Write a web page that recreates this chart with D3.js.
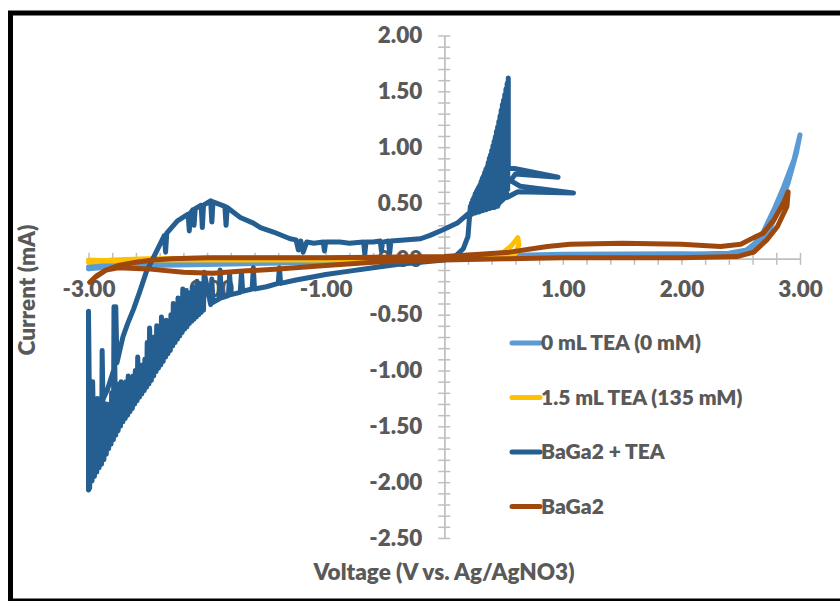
<!DOCTYPE html>
<html>
<head>
<meta charset="utf-8">
<script src="https://cdn.jsdelivr.net/npm/d3@7"></script>
<style>
  body { margin: 0; background: #fff; }
  svg text { font-family: Lato, "Open Sans", sans-serif; font-weight: 800; fill: #595959; }
</style>
</head>
<body>
<script>
// tick labels
const xTickValues = [-3, -2, -1, 1, 2, 3];
const yTickValues = [2, 1.5, 1, 0.5, 0, -0.5, -1, -1.5, -2, -2.5];

// legend
const seriesNames = ["0 mL TEA (0 mM)", "1.5 mL TEA (135 mM)", "BaGa2 + TEA", "BaGa2"];
const seriesColors = ["#5b9bd5", "#ffc000", "#255e91", "#9e480e"];

// [voltage (V), current (mA)]
const tea0 = [
  [-3.0, -0.07], [-2.9, -0.06], [-2.8, -0.05], [-2.5, -0.03], [-2.0, -0.02],
  [-1.0, -0.01], [0.0, 0.0], [1.0, 0.03], [2.0, 0.04], [2.4, 0.05], [2.55, 0.08],
  [2.62, 0.14], [2.69, 0.24], [2.78, 0.44], [2.86, 0.64], [2.95, 0.89], [3.0, 1.11],
  [2.97, 0.95], [2.9, 0.68], [2.82, 0.45], [2.74, 0.25], [2.66, 0.12], [2.55, 0.06],
  [2.3, 0.04], [2.0, 0.045], [1.0, 0.04], [0.5, 0.03], [0.0, 0.0], [-1.0, -0.03],
  [-2.0, -0.05], [-2.5, -0.06], [-2.8, -0.07], [-3.0, -0.09]
];

const tea15 = [
  [-3.0, -0.03], [-2.8, -0.01], [-2.5, 0.0], [-2.0, 0.005], [-1.0, 0.01], [0.0, 0.01],
  [0.4, 0.03], [0.5, 0.06], [0.56, 0.11], [0.6, 0.16], [0.62, 0.19], [0.63, 0.13],
  [0.6, 0.05], [0.5, 0.02], [0.0, 0.0], [-1.0, -0.01], [-2.0, -0.01], [-2.5, -0.01],
  [-2.8, -0.02], [-3.0, -0.01]
];

const bagaTea = [
  [-3.0, -2.07],
  [-2.99, -2.05], [-2.985, -1.45], [-2.97, -1.99], [-2.965, -1.10],
  [-2.95, -1.95], [-2.945, -1.50], [-2.93, -1.91], [-2.925, -1.25],
  [-2.91, -1.87], [-2.905, -1.55], [-2.89, -1.84], [-2.885, -0.82],
  [-2.87, -1.80], [-2.865, -1.40], [-2.85, -1.75], [-2.845, -1.30],
  [-2.83, -1.70], [-2.825, -1.35], [-2.81, -1.66], [-2.805, -1.20],
  [-2.79, -1.62], [-2.785, -0.43], [-2.77, -1.58], [-2.765, -1.25],
  [-2.75, -1.54], [-2.745, -1.12], [-2.73, -1.50], [-2.725, -1.10],
  [-2.71, -1.46], [-2.705, -1.18], [-2.69, -1.43], [-2.685, -1.10],
  [-2.67, -1.40], [-2.665, -1.05], [-2.65, -1.37], [-2.645, -1.14],
  [-2.63, -1.34], [-2.625, -1.05], [-2.61, -1.30], [-2.605, -1.00],
  [-2.59, -1.27], [-2.585, -0.88], [-2.57, -1.24], [-2.565, -1.00],
  [-2.55, -1.21], [-2.545, -0.95], [-2.53, -1.18], [-2.525, -0.90],
  [-2.51, -1.15], [-2.505, -0.75], [-2.49, -1.12], [-2.485, -0.62],
  [-2.47, -1.09], [-2.465, -0.80], [-2.45, -1.05], [-2.445, -0.70],
  [-2.43, -1.01], [-2.425, -0.60], [-2.41, -0.98], [-2.405, -0.70],
  [-2.39, -0.95], [-2.385, -0.52], [-2.37, -0.92], [-2.365, -0.65],
  [-2.35, -0.88], [-2.345, -0.55], [-2.33, -0.85], [-2.325, -0.58],
  [-2.31, -0.82], [-2.305, -0.50], [-2.29, -0.78], [-2.285, -0.40],
  [-2.27, -0.75], [-2.265, -0.45], [-2.25, -0.72], [-2.245, -0.35],
  [-2.23, -0.69], [-2.225, -0.42], [-2.21, -0.66], [-2.205, -0.27],
  [-2.19, -0.63], [-2.185, -0.38], [-2.17, -0.61], [-2.165, -0.30],
  [-2.15, -0.58], [-2.145, -0.35], [-2.13, -0.56], [-2.125, -0.25],
  [-2.11, -0.54], [-2.105, -0.32], [-2.09, -0.52], [-2.085, -0.20],
  [-2.07, -0.50], [-2.065, -0.30], [-2.05, -0.48], [-2.045, -0.22],
  [-2.03, -0.46], [-2.025, -0.12],
  [-1.97, -0.41], [-1.96, -0.18], [-1.95, -0.39],
  [-1.90, -0.36], [-1.89, -0.10], [-1.88, -0.35],
  [-1.82, -0.33], [-1.81, -0.14], [-1.80, -0.32],
  [-1.72, -0.30], [-1.71, -0.12], [-1.70, -0.29],
  [-1.62, -0.27], [-1.61, -0.08], [-1.60, -0.27],
  [-1.50, -0.25], [-1.40, -0.22], [-1.39, -0.08], [-1.38, -0.22],
  [-1.25, -0.19], [-1.10, -0.16], [-1.0, -0.14], [-0.8, -0.11], [-0.6, -0.08],
  [-0.4, -0.05], [-0.2, -0.03], [0.0, -0.01], [0.1, 0.03], [0.16, 0.09], [0.20, 0.2],
  [0.22, 0.47], [0.225, 0.40], [0.23, 0.50], [0.235, 0.40], [0.24, 0.53], [0.245, 0.41],
  [0.25, 0.55], [0.255, 0.41], [0.26, 0.58], [0.265, 0.41], [0.27, 0.60], [0.275, 0.42],
  [0.28, 0.62], [0.285, 0.42], [0.29, 0.64], [0.295, 0.42], [0.30, 0.66], [0.305, 0.43],
  [0.31, 0.69], [0.315, 0.43], [0.32, 0.72], [0.325, 0.43], [0.33, 0.74], [0.335, 0.44],
  [0.34, 0.77], [0.345, 0.44], [0.35, 0.80], [0.355, 0.44], [0.36, 0.82], [0.365, 0.45],
  [0.37, 0.86], [0.375, 0.45], [0.38, 0.90], [0.385, 0.45], [0.39, 0.93], [0.395, 0.46],
  [0.40, 0.97], [0.405, 0.46], [0.41, 1.01], [0.415, 0.46], [0.42, 1.05], [0.425, 0.46],
  [0.43, 1.09], [0.435, 0.47], [0.44, 1.14], [0.445, 0.47], [0.45, 1.18], [0.455, 0.48],
  [0.46, 1.23], [0.465, 0.50], [0.47, 1.28], [0.475, 0.51], [0.48, 1.33], [0.485, 0.52],
  [0.49, 1.38], [0.495, 0.53], [0.50, 1.42], [0.505, 0.54], [0.51, 1.47], [0.515, 0.55],
  [0.52, 1.52], [0.525, 0.58], [0.53, 1.57], [0.535, 0.62], [0.54, 1.62], [0.54, 0.82],
  [0.96, 0.73], [0.60, 0.76], [0.56, 0.70], [0.64, 0.65], [1.09, 0.59], [0.62, 0.60],
  [0.53, 0.55], [0.47, 0.53], [0.45, 0.47], [0.36, 0.46], [0.30, 0.52], [0.22, 0.42],
  [0.11, 0.32], [-0.01, 0.26], [-0.12, 0.21], [-0.2, 0.18], [-0.31, 0.17],
  [-0.45, 0.16], [-0.46, 0.05], [-0.47, 0.16], [-0.52, 0.15], [-0.53, 0.07],
  [-0.54, 0.16], [-0.60, 0.15], [-0.66, 0.15], [-0.67, 0.04], [-0.68, 0.15],
  [-0.80, 0.14], [-0.88, 0.15], [-1.0, 0.15], [-1.01, 0.07], [-1.02, 0.15],
  [-1.10, 0.14], [-1.16, 0.15], [-1.19, 0.06], [-1.21, 0.16], [-1.23, 0.08],
  [-1.25, 0.17], [-1.30, 0.18], [-1.44, 0.24], [-1.55, 0.28], [-1.61, 0.32],
  [-1.72, 0.37], [-1.83, 0.46], [-1.84, 0.30], [-1.85, 0.47], [-1.95, 0.51],
  [-1.96, 0.33], [-1.97, 0.52], [-2.03, 0.48], [-2.04, 0.28], [-2.05, 0.48],
  [-2.10, 0.45], [-2.11, 0.30], [-2.12, 0.44], [-2.14, 0.41], [-2.15, 0.25],
  [-2.16, 0.40], [-2.25, 0.34], [-2.34, 0.23], [-2.35, 0.06], [-2.36, 0.21],
  [-2.42, 0.08], [-2.51, -0.11], [-2.57, -0.30], [-2.62, -0.45], [-2.67, -0.58],
  [-2.71, -0.70], [-2.76, -0.93], [-2.77, -0.43], [-2.78, -0.97], [-2.84, -1.17],
  [-2.93, -1.38], [-2.99, -1.53], [-3.0, -0.47], [-3.0, -2.05]
];

const baga = [
  [-2.99, -0.21], [-2.93, -0.15], [-2.85, -0.10], [-2.75, -0.06], [-2.6, -0.03],
  [-2.45, -0.01], [-2.3, 0.0], [-2.0, 0.01], [-1.0, 0.01], [0.0, 0.02], [0.3, 0.04],
  [0.55, 0.06], [0.87, 0.11], [1.06, 0.13], [1.5, 0.14], [2.0, 0.13], [2.33, 0.11],
  [2.5, 0.13], [2.61, 0.19], [2.69, 0.23], [2.78, 0.35], [2.86, 0.50], [2.90, 0.60],
  [2.89, 0.47], [2.81, 0.29], [2.72, 0.17], [2.61, 0.06], [2.47, 0.02], [2.0, 0.01],
  [1.0, 0.01], [0.5, 0.0], [0.0, -0.01], [-0.6, -0.03], [-1.0, -0.06], [-1.4, -0.09],
  [-1.7, -0.11], [-1.95, -0.13], [-2.2, -0.12], [-2.5, -0.09], [-2.75, -0.08],
  [-2.85, -0.10], [-2.95, -0.17], [-2.99, -0.21]
];

const seriesData = [tea0, tea15, bagaTea, baga];

// =============================================================================

const width = 840,
      height = 601;

const x = d3.scaleLinear()
    .domain([-3, 3])
    .range([88.5, 800]);

const y = d3.scaleLinear()
    .domain([-2.5, 2])
    .range([538, 35.5]);

const svg = d3.select("body").append("svg")
    .attr("width", width)
    .attr("height", height);

svg.append("rect")
    .attr("width", width)
    .attr("height", height)
    .attr("fill", "#fff");

// minor tick positions
const xMinor = d3.range(0, 31).map(i => -3 + i * 0.2);
const yMinor = d3.range(0, 46).map(i => -2.5 + i * 0.1);

const axisColor = "#bfbfbf";

function styleTicks(g) {
  g.selectAll("path, line").attr("stroke", axisColor).attr("stroke-width", 1.5);
}

// x axis, ticks crossing the line
svg.append("g")
    .attr("transform", `translate(0,${y(0)})`)
    .call(d3.axisBottom(x).tickValues(xMinor).tickSize(6).tickSizeOuter(0).tickFormat(""))
    .call(styleTicks);
svg.append("g")
    .attr("transform", `translate(0,${y(0)})`)
    .call(d3.axisTop(x).tickValues(xMinor).tickSize(6).tickSizeOuter(0).tickFormat(""))
    .call(styleTicks);

// y axis, ticks crossing the line
svg.append("g")
    .attr("transform", `translate(${x(0)},0)`)
    .call(d3.axisLeft(y).tickValues(yMinor).tickSize(6).tickSizeOuter(0).tickFormat(""))
    .call(styleTicks);
svg.append("g")
    .attr("transform", `translate(${x(0)},0)`)
    .call(d3.axisRight(y).tickValues(yMinor).tickSize(6).tickSizeOuter(0).tickFormat(""))
    .call(styleTicks);

// tick labels
function styleLabels(g) {
  g.attr("font-family", null).attr("font-size", null);
  g.select(".domain").remove();
  g.selectAll("text")
      .attr("fill", null)
      .style("font-size", "22.5px");
}

svg.append("g")
    .attr("transform", `translate(0,${y(0)})`)
    .call(d3.axisBottom(x).tickValues(xTickValues).tickSize(0).tickPadding(22)
      .tickFormat(d => d.toFixed(2)))
    .call(styleLabels);

svg.append("g")
    .attr("transform", `translate(${x(0)},0)`)
    .call(d3.axisLeft(y).tickValues(yTickValues).tickSize(0).tickPadding(22)
      .tickFormat(d => d.toFixed(2)))
    .call(styleLabels);

// series
const line = d3.line()
    .x(d => x(d[0]))
    .y(d => y(d[1]));

svg.append("g")
  .selectAll("path")
  .data(seriesData)
  .join("path")
    .attr("d", line)
    .attr("fill", "none")
    .attr("stroke", (d, i) => seriesColors[i])
    .attr("stroke-width", 5)
    .attr("stroke-linejoin", "round")
    .attr("stroke-linecap", "round");

// axis titles
svg.append("text")
    .attr("transform", "translate(35,290) rotate(-90)")
    .attr("text-anchor", "middle")
    .style("font-size", "22.5px")
    .text("Current (mA)");

svg.append("text")
    .attr("x", 444)
    .attr("y", 580)
    .attr("text-anchor", "middle")
    .style("font-size", "22.5px")
    .text("Voltage (V vs. Ag/AgNO3)");

// legend
const legend = svg.append("g")
  .selectAll("g")
  .data(seriesNames)
  .join("g")
    .attr("transform", (d, i) => `translate(512,${343 + i * 54.5})`);

legend.append("line")
    .attr("x1", 0)
    .attr("x2", 28)
    .attr("stroke", (d, i) => seriesColors[i])
    .attr("stroke-width", 5)
    .attr("stroke-linecap", "round");

legend.append("text")
    .attr("x", 29)
    .attr("dy", "0.35em")
    .style("font-size", "21px")
    .text(d => d);

// frame
svg.append("rect")
    .attr("x", 10.5)
    .attr("y", 13)
    .attr("width", width)
    .attr("height", 588)
    .attr("fill", "none")
    .attr("stroke", "#000")
    .attr("stroke-width", 5);
</script>
</body>
</html>
